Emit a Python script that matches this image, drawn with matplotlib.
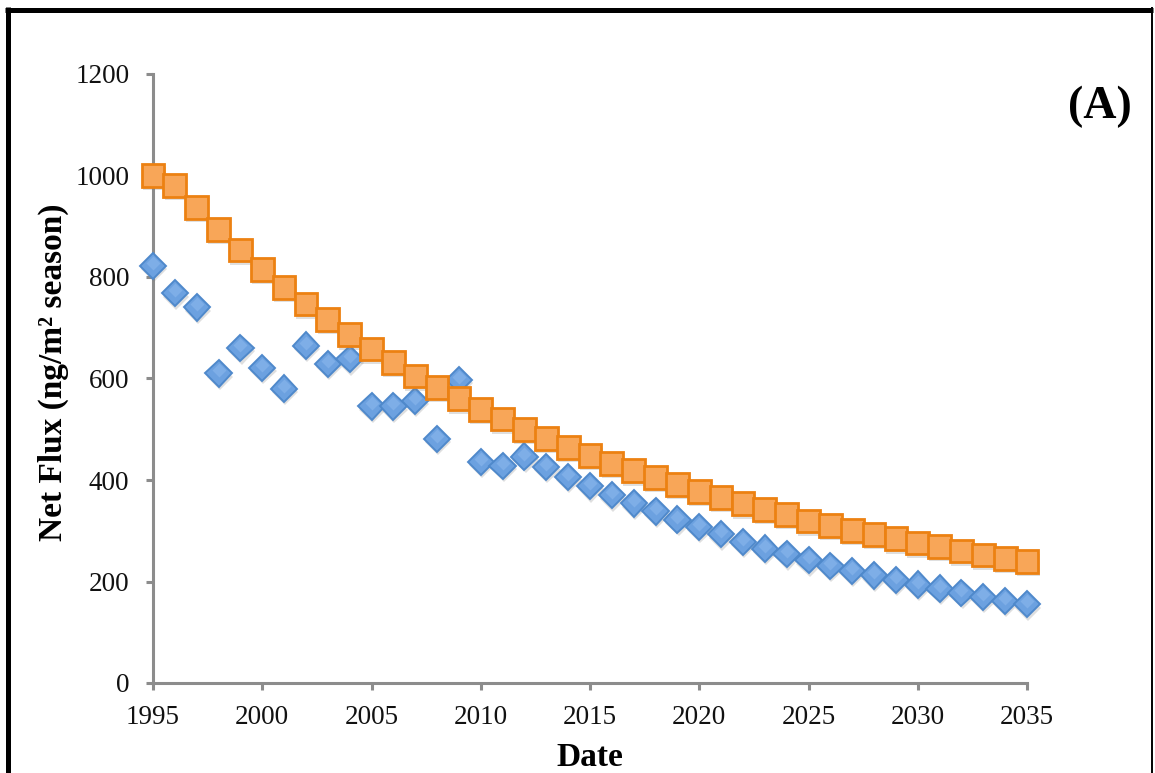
import matplotlib
matplotlib.use("Agg")
import matplotlib.pyplot as plt
import matplotlib.patheffects as pe
from matplotlib.lines import Line2D

# Years of the seasonal record and projection
years = list(range(1995, 2036))

# Observed net flux (ng/m2 season)
observed = [822, 768, 740, 610, 660, 621, 580, 665, 629, 638,
            545, 545, 556, 481, 597, 436, 428, 446, 426, 406,
            388, 370, 354, 338, 322, 308, 293, 278, 265, 254,
            242, 231, 221, 212, 203, 194, 186, 178, 170, 162, 155]

# Modelled net flux (ng/m2 season)
modelled = [1000, 981, 937, 894, 853, 815, 780, 747, 717, 686,
            658, 631, 605, 583, 560, 539, 520, 500, 482, 464,
            448, 433, 418, 405, 391, 378, 366, 353, 342, 332,
            319, 310, 301, 293, 284, 276, 269, 260, 252, 246, 239]

x_ticks = [1995, 2000, 2005, 2010, 2015, 2020, 2025, 2030, 2035]
y_ticks = [0, 200, 400, 600, 800, 1000, 1200]

plt.rcParams["font.family"] = ["Liberation Serif", "DejaVu Serif"]

W, H = 1155, 773
fig = plt.figure(figsize=(W / 100, H / 100), dpi=100)
ax = fig.add_axes([153 / W, 1 - 683 / H, (1027 - 153) / W, (683 - 74) / H])

shadow = [pe.SimplePatchShadow(offset=(0.8, -2.4), shadow_rgbFace="#808080", alpha=0.25),
          pe.Normal()]

ax.plot(years, observed, linestyle="none", marker="D", markersize=13.4,
        markerfacecolor="#6CA1E0", markeredgecolor="#4F89CB", markeredgewidth=1.4,
        path_effects=shadow, zorder=3, clip_on=False)
# lighter upper sheen on the diamonds
ax.plot(years, observed, linestyle="none", marker="D", markersize=7.5,
        markerfacecolor="#8DBAEE", markeredgecolor="none", alpha=0.55,
        zorder=3.1, clip_on=False,
        transform=ax.transData + matplotlib.transforms.ScaledTranslation(0, 3 / 100, fig.dpi_scale_trans))
ax.plot(years, modelled, linestyle="none", marker="s", markersize=16.4,
        markerfacecolor="#F8A658", markeredgecolor="#EC8112", markeredgewidth=2.0,
        path_effects=shadow, zorder=4, clip_on=False)

ax.set_xlim(1995, 2035)
ax.set_ylim(0, 1200)
ax.set_xticks(x_ticks)
ax.set_yticks(y_ticks)

grey = "#8C8C8C"
for side in ("top", "right"):
    ax.spines[side].set_visible(False)
for side in ("left", "bottom"):
    ax.spines[side].set_color(grey)
    ax.spines[side].set_linewidth(2.2)
ax.tick_params(axis="both", direction="out", length=5, width=2.2, color=grey,
               labelsize=19.5, labelcolor="#111111")
ax.tick_params(axis="y", pad=12)
ax.tick_params(axis="x", pad=11)

ax.set_xlabel("Date", fontsize=24, fontweight="bold")
ax.xaxis.set_label_coords(0.5, (683 - 757) / (683 - 74))
ax.xaxis.label.set_va("center")
ax.set_ylabel("Net Flux (ng/m\u00b2 season)", fontsize=24, fontweight="bold")
ax.yaxis.set_label_coords((53 - 153) / (1027 - 153), (683 - 372) / (683 - 74))
ax.yaxis.label.set_va("center")

fig.text(1100 / W, 1 - 107 / H, "(A)", fontsize=33, fontweight="bold",
         ha="center", va="center")

# Outer frame around the panel
frame_kw = dict(transform=fig.transFigure, color="black", solid_capstyle="butt")
fig.add_artist(Line2D([5 / W, 1153 / W], [1 - 9.5 / H, 1 - 9.5 / H], linewidth=3.6, **frame_kw))
fig.add_artist(Line2D([7.5 / W, 7.5 / W], [0, 1 - 7 / H], linewidth=3.6, **frame_kw))
fig.add_artist(Line2D([1151.5 / W, 1151.5 / W], [0, 1 - 7 / H], linewidth=1.4, **frame_kw))

fig.savefig("out.png", dpi=100, facecolor="white")
